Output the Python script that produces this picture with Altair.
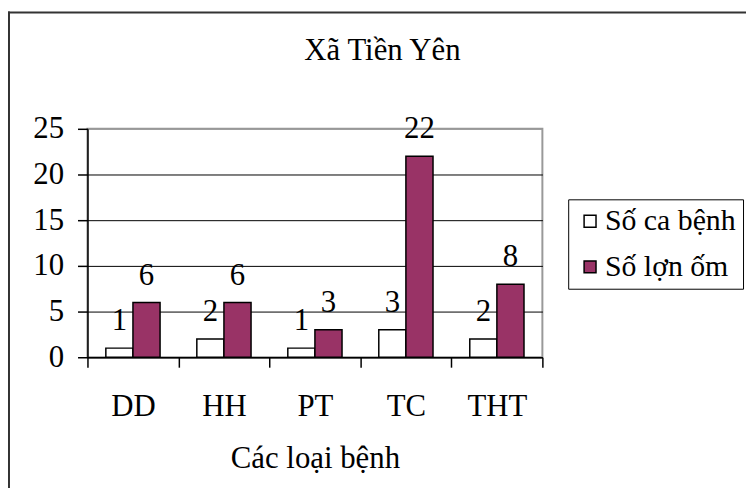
import altair as alt
import pandas as pd

categories = ["DD", "HH", "PT", "TC", "THT"]
series_names = ["Số ca bệnh", "Số lợn ốm"]
so_ca_benh = [1, 2, 1, 3, 2]
so_lon_om = [6, 6, 3, 22, 8]
y_ticks = [0, 5, 10, 15, 20, 25]
chart_title = "Xã Tiền Yên"
x_title = "Các loại bệnh"

rows = []
for c, a, b in zip(categories, so_ca_benh, so_lon_om):
    rows.append({"cat": c, "series": series_names[0], "value": a})
    rows.append({"cat": c, "series": series_names[1], "value": b})
df = pd.DataFrame(rows)

FONT = "Liberation Serif"
FS = 31

x_enc = alt.X(
    "cat:N",
    sort=categories,
    scale=alt.Scale(paddingInner=0, paddingOuter=0),
    axis=alt.Axis(
        title=x_title,
        labelAngle=0,
        tickBand="extent",
        ticks=True,
        tickSize=10,
        tickColor="black",
        domainColor="black",
        labelPadding=25,
        titlePadding=22,
        grid=False,
    ),
)
xoff = alt.XOffset(
    "series:N",
    sort=series_names,
    scale=alt.Scale(paddingInner=0, paddingOuter=0.678),
)
y_enc = alt.Y(
    "value:Q",
    scale=alt.Scale(domain=[0, 25], nice=False),
    axis=alt.Axis(
        title=None,
        values=y_ticks,
        tickSize=10,
        tickColor="black",
        domainColor="black",
        labelPadding=14,
        grid=True,
        gridColor={"condition": {"test": "datum.value == 25", "value": "#999999"}, "value": "black"},
        gridWidth=1,
    ),
)

frame_top = alt.Chart(alt.Data(values=[{}])).mark_rule(
    color="#333333", strokeWidth=2, clip=False
).encode(
    x=alt.value(-80), x2=alt.value(700), y=alt.value(-117)
)
frame_left = alt.Chart(alt.Data(values=[{}])).mark_rule(
    color="#333333", strokeWidth=2, clip=False
).encode(
    x=alt.value(-79), y=alt.value(-118), y2=alt.value(400)
)

title_mark = alt.Chart(alt.Data(values=[{"t": chart_title}])).mark_text(
    font=FONT, fontSize=FS, baseline="alphabetic", align="center", color="black"
).encode(
    x=alt.value(297), y=alt.value(-69), text="t:N"
)

bars = alt.Chart(df).mark_bar(stroke="black", strokeWidth=1.5).encode(
    x=x_enc,
    xOffset=xoff,
    y=y_enc,
    color=alt.Color(
        "series:N",
        sort=series_names,
        scale=alt.Scale(domain=series_names, range=["white", "#993366"]),
        legend=alt.Legend(
            title=None,
            orient="none",
            legendX=484,
            legendY=71,
            strokeColor="black",
            fillColor="white",
            padding=7,
            symbolType="square",
            symbolSize=144,
            symbolStrokeColor="black",
            symbolStrokeWidth=1.5,
            symbolOpacity=1,
            labelFont=FONT,
            labelFontSize=30,
            labelColor="black",
            labelOffset=0,
            rowPadding=16,
            labelLimit=300,
        ),
    ),
)

labels = alt.Chart(df).mark_text(
    font=FONT, fontSize=FS, baseline="alphabetic", dy=-18, color="black"
).encode(
    x=alt.X("cat:N", sort=categories),
    xOffset=alt.XOffset("series:N", sort=series_names),
    y=alt.Y("value:Q"),
    text=alt.Text("value:Q"),
)

chart = alt.layer(bars, labels, frame_top, frame_left, title_mark).properties(
    width=458,
    height=230,
    background="white",
    padding={"left": 80, "top": 120, "right": 205, "bottom": 130},
    autosize=alt.AutoSizeParams(type="none"),
).configure_view(
    stroke="#999999", strokeWidth=2
).configure_axis(
    labelFont=FONT,
    labelFontSize=FS,
    labelColor="black",
    titleFont=FONT,
    titleFontSize=FS,
    titleFontWeight="normal",
    titleColor="black",
    domainWidth=1.5,
    tickWidth=1.5,
)

chart.save("out.html", embed_options={"renderer": "svg", "actions": False})
